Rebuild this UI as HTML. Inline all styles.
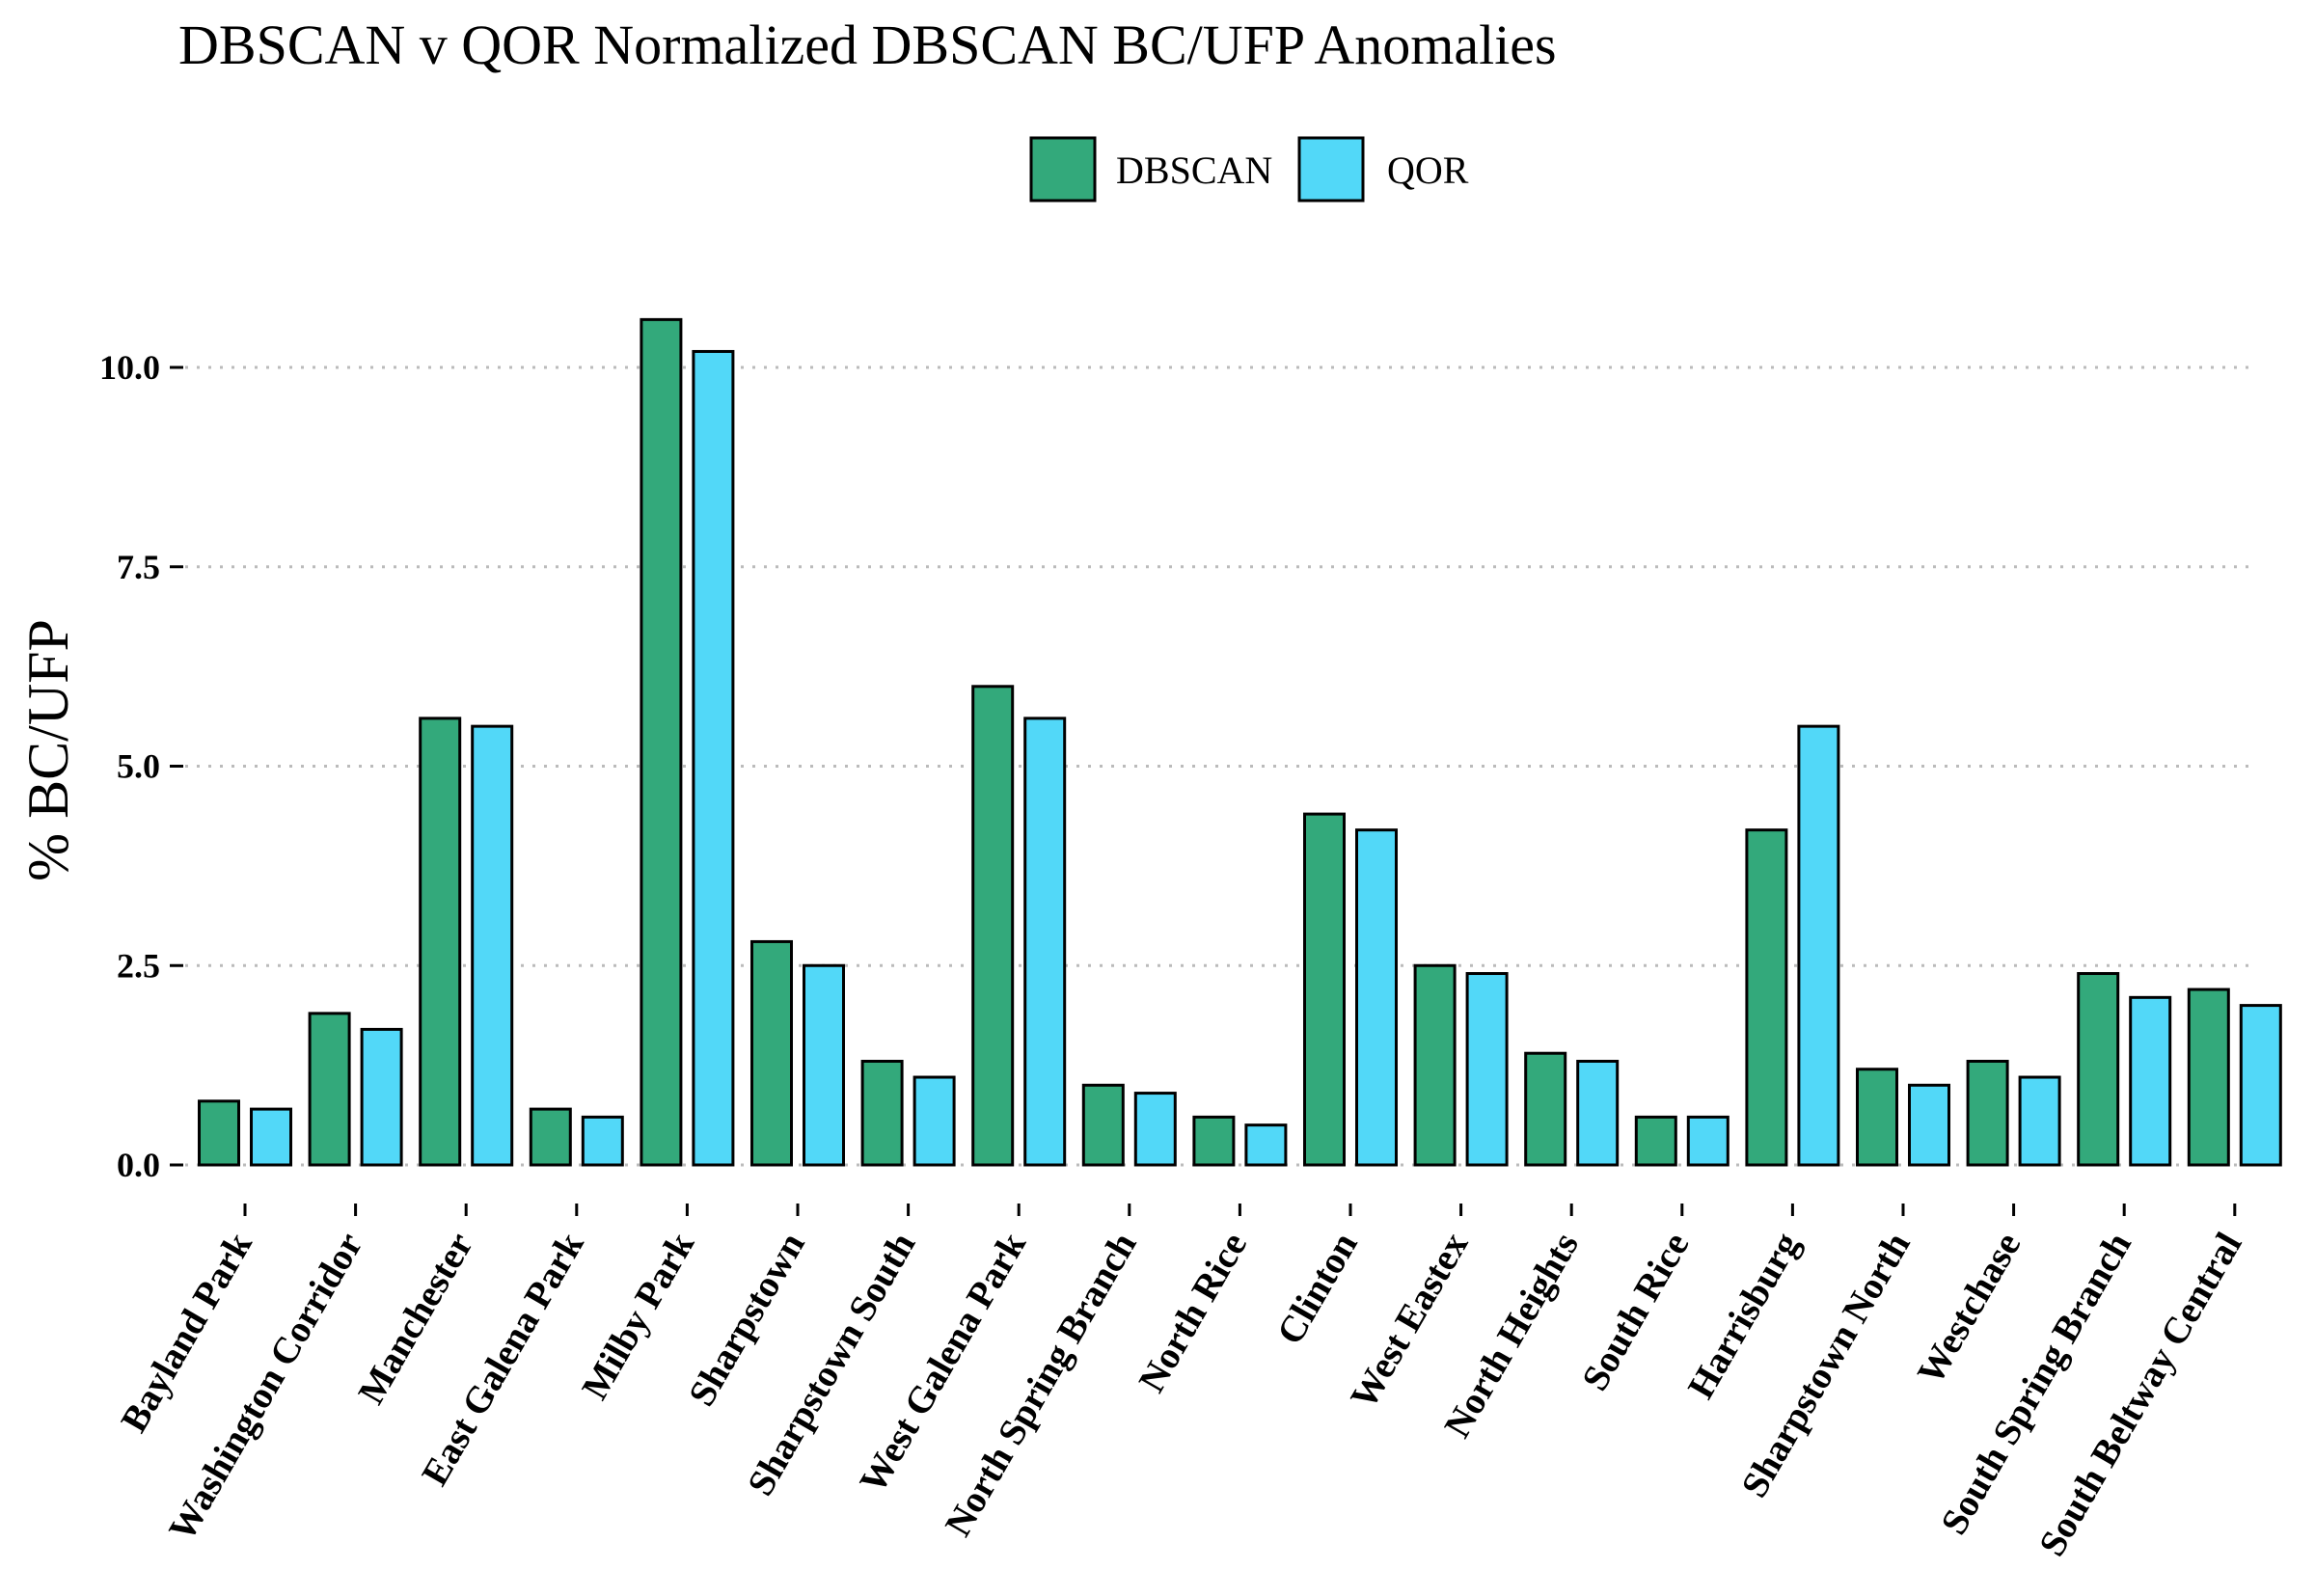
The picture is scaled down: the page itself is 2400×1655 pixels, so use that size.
<!DOCTYPE html>
<html><head><meta charset="utf-8"><style>
html,body{margin:0;padding:0;background:#fff;}
svg text{font-family:"Liberation Serif",serif;}
</style></head><body>
<svg id="chart" width="2400" height="1650" viewBox="0 0 2400 1650" xmlns="http://www.w3.org/2000/svg">
<text x="185" y="66" font-size="58">DBSCAN v QOR Normalized DBSCAN BC/UFP Anomalies</text>
<g>
<rect x="1069" y="143" width="66" height="65" fill="#33a97b" stroke="#000" stroke-width="3"/>
<text x="1157" y="190" font-size="40">DBSCAN</text>
<rect x="1347" y="143" width="66" height="65" fill="#52d8f8" stroke="#000" stroke-width="3"/>
<text x="1438" y="190" font-size="40">QOR</text>
</g>
<text transform="translate(70,778) rotate(-90)" text-anchor="middle" font-size="60">% BC/UFP</text>
<g id="grid"></g><g id="bars"></g><g id="axes"></g>
</svg>
<script>
const categories=["Bayland Park","Washington Corridor","Manchester","East Galena Park","Milby Park","Sharpstown","Sharpstown South","West Galena Park","North Spring Branch","North Rice","Clinton","West Eastex","North Heights","South Rice","Harrisburg","Sharpstown North","Westchase","South Spring Branch","South Beltway Central"];
const dbscanValues=[0.8,1.9,5.6,0.7,10.6,2.8,1.3,6.0,1.0,0.6,4.4,2.5,1.4,0.6,4.2,1.2,1.3,2.4,2.2];
const qorValues=[0.7,1.7,5.5,0.6,10.2,2.5,1.1,5.6,0.9,0.5,4.2,2.4,1.3,0.6,5.5,1.0,1.1,2.1,2.0];
const yTicks=[0,2.5,5,7.5,10];
const yTickLabels=["0.0","2.5","5.0","7.5","10.0"];

const NS="http://www.w3.org/2000/svg";
const y=v=>1208-v*82.7;
const x=i=>254+i*114.6;
const bw=41,off=27;
function mk(tag,attrs,parent){const e=document.createElementNS(NS,tag);for(const k in attrs)e.setAttribute(k,attrs[k]);parent.appendChild(e);return e;}
const grid=document.getElementById('grid'),bars=document.getElementById('bars'),axes=document.getElementById('axes');
yTicks.forEach((t,i)=>{
  const g=mk('line',{x1:192,x2:2338,y1:y(t),y2:y(t),stroke:'#bbb','stroke-width':3,'stroke-dasharray':'3 9'},grid);
  
  
  const tk=mk('line',{x1:176,x2:190,y1:y(t),y2:y(t),stroke:'#000','stroke-width':3},axes);
  
  
  const lb=mk('text',{x:166,y:y(t)+12,'text-anchor':'end','font-size':36,'font-weight':'bold'},axes);
  lb.textContent=yTickLabels[i];
  
  
});
categories.forEach((c,i)=>{
  const cx=x(i);
  const b1=mk('rect',{x:cx-off-bw/2,y:y(dbscanValues[i]),width:bw,height:y(0)-y(dbscanValues[i]),fill:'#33a97b',stroke:'#000','stroke-width':3},bars);
  
  
  const b2=mk('rect',{x:cx+off-bw/2,y:y(qorValues[i]),width:bw,height:y(0)-y(qorValues[i]),fill:'#52d8f8',stroke:'#000','stroke-width':3},bars);
  
  
  const tk=mk('line',{x1:cx,x2:cx,y1:1248,y2:1261,stroke:'#000','stroke-width':3},axes);
  
  
  const lb=mk('text',{transform:`translate(${cx+8},1288) rotate(-60)`,'text-anchor':'end','font-size':39,'font-weight':'bold'},axes);
  lb.textContent=c;
  
  
});
</script>
</body></html>
